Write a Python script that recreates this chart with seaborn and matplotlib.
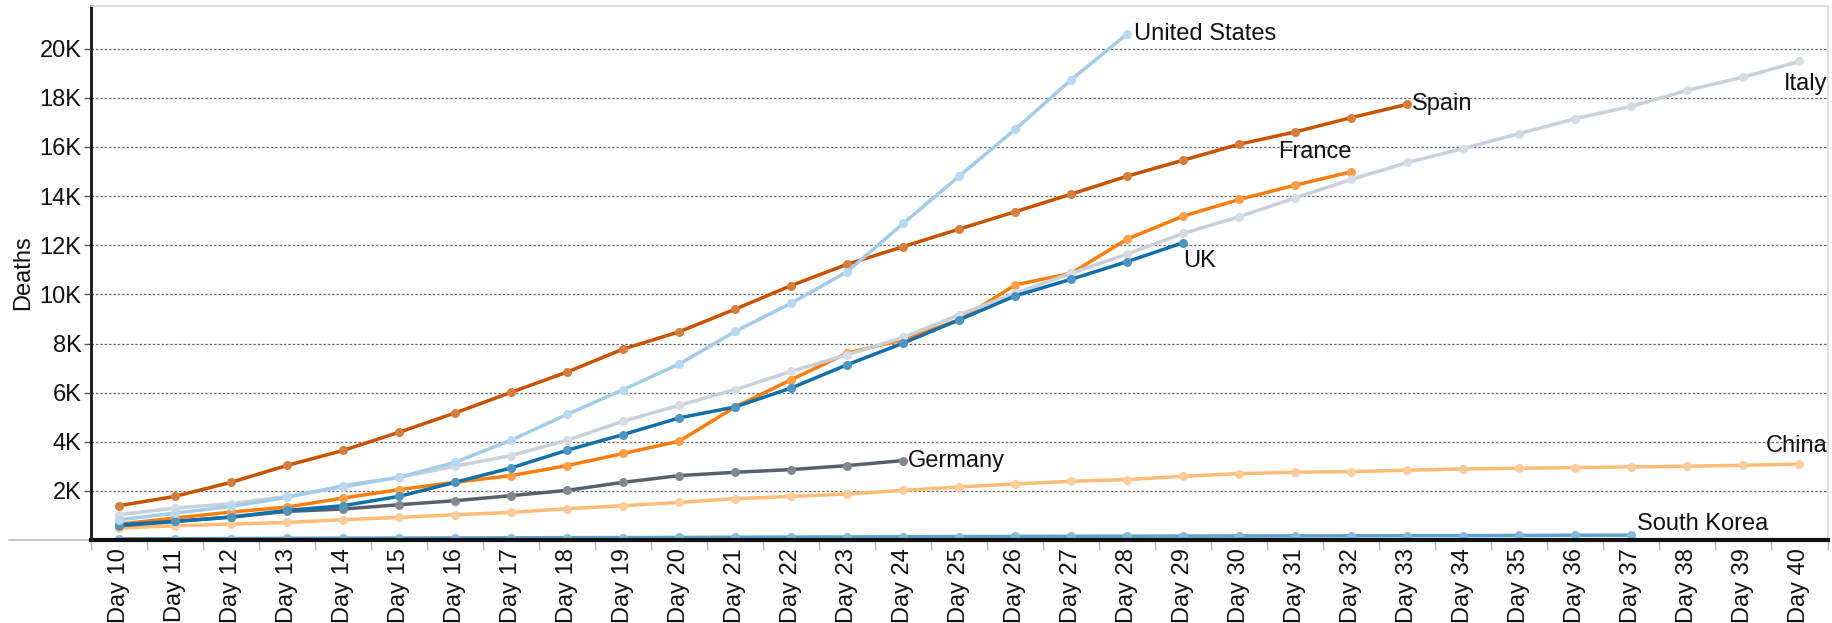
import matplotlib
matplotlib.use("Agg")
import matplotlib.pyplot as plt
from matplotlib.lines import Line2D
import matplotlib.transforms as mtransforms
import matplotlib.colors as mcolors
import pandas as pd
import seaborn as sns

# Day numbers on the x axis and their labels
DAYS = list(range(10, 41))
DAY_LABELS = [f"Day {d}" for d in DAYS]

Y_TICKS = [2000, 4000, 6000, 8000, 10000, 12000, 14000, 16000, 18000, 20000]
Y_TICK_LABELS = ["2K", "4K", "6K", "8K", "10K", "12K", "14K", "16K", "18K", "20K"]

# Cumulative deaths, every series starts at Day 10
south_korea = [54, 60, 66, 75, 81, 84, 91, 94, 102, 104, 111, 120, 126, 131,
               139, 144, 152, 158, 162, 165, 169, 174, 177, 183, 186, 192, 200, 204]
china = [490, 585, 653, 721, 830, 925, 1034, 1129, 1279, 1401, 1537, 1687, 1782,
         1877, 2027, 2163, 2286, 2395, 2463, 2599, 2707, 2762, 2789, 2844, 2898,
         2925, 2952, 2980, 3007, 3048, 3088]
germany = [580, 762, 939, 1170, 1265, 1442, 1605, 1810, 2027, 2354, 2626, 2762,
           2871, 3034, 3238]
italy = [1034, 1306, 1483, 1780, 2163, 2558, 3007, 3442, 4068, 4839, 5489, 6125,
         6869, 7546, 8250, 9170, 10049, 10860, 11645, 12484, 13160, 13931, 14676,
         15367, 15935, 16544, 17153, 17654, 18304, 18845, 19480]
uk = [626, 762, 939, 1211, 1401, 1782, 2354, 2939, 3660, 4298, 4974, 5421, 6192,
      7139, 8019, 8966, 9940, 10617, 11334, 12105]
france = [650, 898, 1143, 1347, 1714, 2054, 2354, 2626, 3034, 3526, 4027, 5421,
          6530, 7613, 8154, 8966, 10387, 10860, 12254, 13188, 13864, 14446, 14987]
spain = [1401, 1782, 2354, 3040, 3650, 4392, 5177, 6016, 6842, 7775, 8479, 9400,
         10360, 11226, 11943, 12660, 13364, 14081, 14812, 15462, 16111, 16612,
         17193, 17735]
united_states = [830, 1100, 1370, 1740, 2218, 2558, 3170, 4068, 5120, 6125, 7166,
                 8493, 9643, 10928, 12890, 14812, 16720, 18736, 20603]

# drawing order, first one ends up at the bottom
COUNTRIES = ["South Korea", "China", "Germany", "France", "Italy", "UK", "Spain",
             "United States"]
SERIES = [south_korea, china, germany, france, italy, uk, spain, united_states]
COLORS = {
    "South Korea": "#5fa2ce",
    "China": "#ffbc79",
    "Germany": "#57606c",
    "Italy": "#c8d0d9",
    "UK": "#1170aa",
    "France": "#fc7d0b",
    "Spain": "#c85200",
    "United States": "#a3cce9",
}

# label placement: (dx, dy) in points, ha, va
LABEL_STYLE = {
    "United States": ((5, 0), "left", "center"),
    "Spain": ((3, 0), "left", "center"),
    "Italy": ((20, -8), "right", "top"),
    "France": ((0, 6), "right", "bottom"),
    "UK": ((0, -5), "left", "top"),
    "Germany": ((3, 0), "left", "center"),
    "China": ((20, 5), "right", "bottom"),
    "South Korea": ((4, 0), "left", "bottom"),
}


def lighten(color, amount=0.3):
    r, g, b = mcolors.to_rgb(color)
    return (r + (1 - r) * amount, g + (1 - g) * amount, b + (1 - b) * amount)


rows = []
for name, vals in zip(COUNTRIES, SERIES):
    for d, v in zip(DAYS, vals):
        rows.append({"day": d, "deaths": v, "country": name})
df = pd.DataFrame(rows)

sns.set_style("white")
plt.rcParams["font.family"] = ["Liberation Sans", "DejaVu Sans"]

fig = plt.figure(figsize=(18.33, 6.23), dpi=100)
ax = fig.add_axes([0.0497, 0.133, 0.9473, 0.858])

sns.lineplot(data=df, x="day", y="deaths", hue="country", hue_order=COUNTRIES,
             palette=COLORS, marker="o", markersize=6.5, markeredgewidth=0,
             linewidth=2.5, legend=False, ax=ax)

# softer dots on top of the lines, like the original
for line, name in zip(ax.get_lines(), COUNTRIES):
    line.set_markerfacecolor(lighten(COLORS[name], 0.25))

for name, vals in zip(COUNTRIES, SERIES):
    (dx, dy), ha, va = LABEL_STYLE[name]
    ax.annotate(name, xy=(DAYS[len(vals) - 1], vals[-1]), xytext=(dx, dy),
                textcoords="offset points", ha=ha, va=va, fontsize=17,
                color="#111111", annotation_clip=False)

ax.set_xlim(DAYS[0] - 0.5, DAYS[-1] + 0.5)
ax.set_ylim(0, 21750)

ax.set_xticks(DAYS)
ax.set_xticklabels(DAY_LABELS, rotation=90, fontsize=17, color="#111111")
ax.set_xticks([d - 0.5 for d in DAYS] + [DAYS[-1] + 0.5], minor=True)
ax.tick_params(axis="x", which="major", length=0, pad=6)
ax.tick_params(axis="x", which="minor", length=7, width=1, color="#b0b0b0",
               bottom=True)

ax.set_yticks(Y_TICKS)
ax.set_yticklabels(Y_TICK_LABELS, fontsize=17, color="#111111")
ax.tick_params(axis="y", which="major", length=5, width=1, color="#555555",
               left=True, pad=2)

ax.set_xlabel("")
ax.set_ylabel("Deaths", fontsize=17, color="#111111", labelpad=4)

ax.grid(axis="y", color="#666666", linestyle=(0, (2, 1.5)), linewidth=0.9)
ax.grid(axis="x", visible=False)
ax.set_axisbelow(True)

for side in ["top", "right"]:
    ax.spines[side].set_color("#d9d9d9")
    ax.spines[side].set_linewidth(1.2)
ax.spines["left"].set_color("#111111")
ax.spines["left"].set_linewidth(2)
ax.spines["bottom"].set_color("#111111")
ax.spines["bottom"].set_linewidth(3)

# zero line running out under the tick labels
trans = mtransforms.blended_transform_factory(ax.transAxes, ax.transData)
ax.add_line(Line2D([-0.047, 0], [0, 0], transform=trans, color="#c8c8c8",
                   linewidth=1.5, clip_on=False))

fig.savefig("out.png", dpi=100)
